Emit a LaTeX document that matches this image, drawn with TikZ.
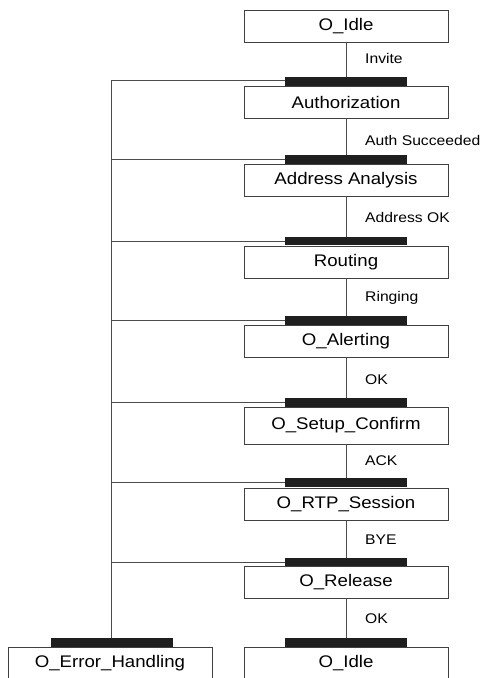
\documentclass[tikz,border=0pt]{standalone}
\usepackage{fontspec}
\setmainfont{Liberation Sans}
\newfontfamily\statefont[FakeStretch=1.11]{Liberation Sans}
\newfontfamily\eventfont[FakeStretch=1.12]{Liberation Sans}
\begin{document}
\begin{tikzpicture}[x=1pt,y=-1pt,
  state/.style={draw=black!75, line width=0.8pt, fill=white, minimum width=204pt,
    inner sep=0pt, font=\statefont\fontsize{16.8}{18}\selectfont},
  statetext/.style={inner sep=0pt, font=\statefont\fontsize{16.8}{18}\selectfont},
  syncbar/.style={fill=black!88, draw=none, minimum width=122pt, minimum height=8.5pt, inner sep=0pt},
  wire/.style={draw=black!70, line width=0.8pt},
  evt/.style={anchor=west, inner sep=0pt, font=\eventfont\fontsize{14}{16}\selectfont}]
\useasboundingbox (0,0) rectangle (493,678);
\begin{scope}
\clip (0,0) rectangle (493,678);
% main sequence of states
\node[state, minimum height=32pt] (s1) at (346,26) {O\_Idle};
\node[syncbar] (b1) at (346,81.5) {};
\node[state, minimum height=32pt] (s2) at (346,102) {Authorization};
\node[syncbar] (b2) at (346,159.5) {};
\node[state, minimum height=32pt] (s3) at (346,180) {Address Analysis};
\node[syncbar] (b3) at (346,241) {};
\node[state, minimum height=32pt] (s4) at (346,262) {Routing};
\node[syncbar] (b4) at (346,320.5) {};
\node[state, minimum height=32pt] (s5) at (346,341) {O\_Alerting};
\node[syncbar] (b5) at (346,402.5) {};
\node[state, minimum height=37pt] (s6) at (346,425.5) {O\_Setup\_Confirm};
\node[syncbar] (b6) at (346,482.5) {};
\node[state, minimum height=32pt] (s7) at (346,504) {O\_RTP\_Session};
\node[syncbar] (b7) at (346,562) {};
\node[state, minimum height=32pt] (s8) at (346,582) {O\_Release};
\node[syncbar] (b8) at (346,642.5) {};
\node[state, minimum height=40pt] (s9) at (346,667) {};
\node[statetext] (t9) at (346,663) {O\_Idle};
% error branch
\node[syncbar] (be) at (111.5,642.5) {};
\node[state, minimum height=40pt] (se) at (110,667) {};
\node[statetext] (te) at (110,663) {O\_Error\_Handling};

% transitions
\draw[wire] (s1.south) -- (b1.north);
\draw[wire] (s2.south) -- (b2.north);
\draw[wire] (s3.south) -- (b3.north);
\draw[wire] (s4.south) -- (b4.north);
\draw[wire] (s5.south) -- (b5.north);
\draw[wire] (s6.south) -- (b6.north);
\draw[wire] (s7.south) -- (b7.north);
\draw[wire] (s8.south) -- (b8.north);

\node[evt] (e1) at (365,58) {Invite};
\node[evt] (e2) at (365,140) {Auth Succeeded};
\node[evt] (e3) at (365,217) {Address OK};
\node[evt] (e4) at (365,298) {Ringing};
\node[evt] (e5) at (365,380) {OK};
\node[evt] (e6) at (365,461) {ACK};
\node[evt] (e7) at (365,540) {BYE};
\node[evt] (e8) at (365,619) {OK};

% error rail
\coordinate (r1) at (111.5,80);
\draw[wire] (b1.west |- r1) -- (r1) -- (be.north);
\foreach \b in {b2,b3,b4,b5,b6,b7}
  \draw[wire] (\b.west) -- (\b.west -| r1);
\end{scope}
\end{tikzpicture}
\end{document}
